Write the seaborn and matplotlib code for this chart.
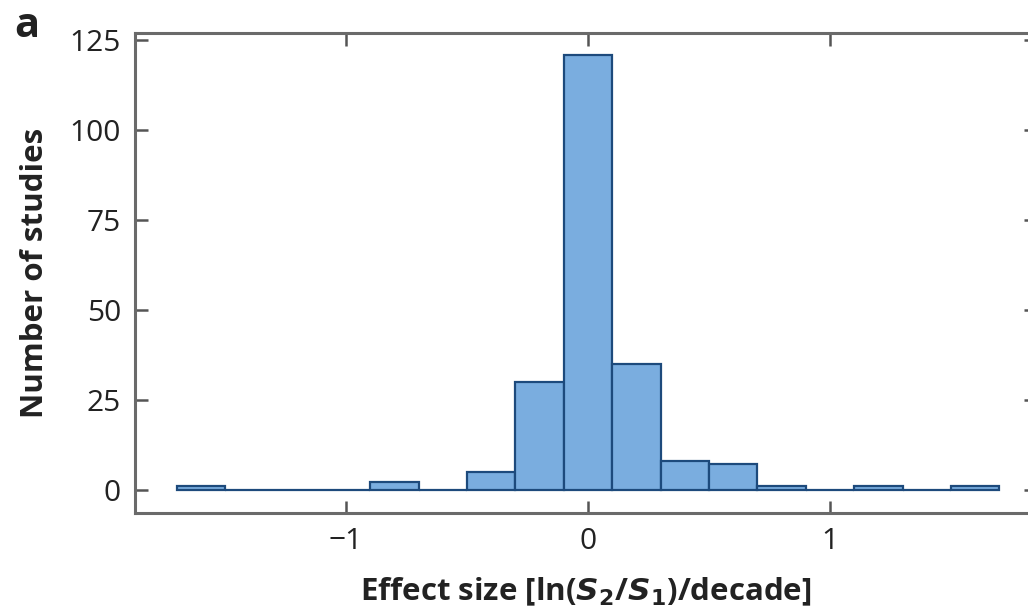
import numpy as np
import pandas as pd
import matplotlib
matplotlib.use("Agg")
import matplotlib.pyplot as plt
import seaborn as sns

# Histogram of effect sizes (bin width 0.2, centred on multiples of 0.2)
bin_centers = [-1.6, -1.4, -1.2, -1.0, -0.8, -0.6, -0.4, -0.2, 0.0,
               0.2, 0.4, 0.6, 0.8, 1.0, 1.2, 1.4, 1.6]
counts = [1, 0, 0, 0, 2, 0, 5, 30, 121, 35, 8, 7, 1, 0, 1, 0, 1]
bin_edges = [-1.7, -1.5, -1.3, -1.1, -0.9, -0.7, -0.5, -0.3, -0.1,
             0.1, 0.3, 0.5, 0.7, 0.9, 1.1, 1.3, 1.5, 1.7]
x_ticks = [-1, 0, 1]
x_tick_labels = ["\u22121", "0", "1"]
y_ticks = [0, 25, 50, 75, 100, 125]

df = pd.DataFrame({"effect": bin_centers, "n": counts})

sns.set_theme(style="white")
plt.rcParams["font.family"] = ["Open Sans", "DejaVu Sans"]

fig = plt.figure(figsize=(10.28, 6.10), dpi=100)
# the frame runs slightly past the right edge of the canvas
ax = fig.add_axes([135 / 1028, 1 - 513 / 610, (1036 - 135) / 1028, (513 - 33) / 610])

sns.histplot(data=df, x="effect", weights="n", bins=bin_edges, ax=ax,
             color="#7aaddf", alpha=1.0, edgecolor="#1d4a7c", linewidth=1.6)

ax.set_xlim(-1.872, 1.851)
ax.set_ylim(-6.5, 127)
ax.set_xticks(x_ticks)
ax.set_xticklabels(x_tick_labels)
ax.set_yticks(y_ticks)

spine_col = "#6a6a6a"
for s in ax.spines.values():
    s.set_color(spine_col)
    s.set_linewidth(2.2)

ax.tick_params(axis="both", which="both", direction="in", length=9, width=1.8,
               color="#555555", labelsize=21.5, labelcolor="#222222",
               top=True, right=True, bottom=True, left=True, pad=10)

ax.set_xlabel("Effect size [ln($\\mathbfit{S}_\\mathbf{2}$/$\\mathbfit{S}_\\mathbf{1}$)/decade]",
              fontsize=22.5, fontweight="bold", color="#222222", labelpad=14)
ax.set_ylabel("Number of studies", fontsize=22.5, fontweight="bold",
              color="#222222", labelpad=14)

fig.text(14 / 1028, 1 - 6 / 610, "a", fontsize=30, fontweight="bold",
         color="#222222", ha="left", va="top")

fig.savefig("out.png", dpi=100)
